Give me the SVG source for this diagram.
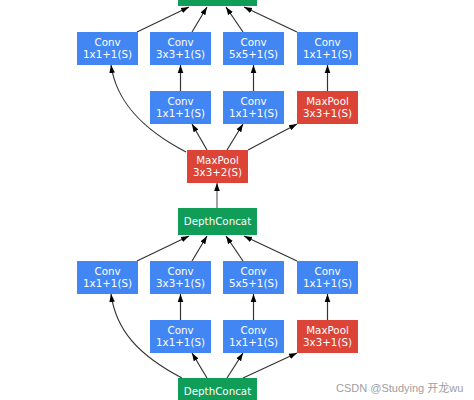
<svg xmlns="http://www.w3.org/2000/svg" width="474" height="400" viewBox="0 0 474 400">
<style>
.conv{fill:#4286F4}
.pool{fill:#DB4437}
.cat{fill:#0F9D58}
.t{font-family:"DejaVu Sans",sans-serif;font-size:10.3px;fill:#fff;text-anchor:middle}
.e{fill:none;stroke:#333;stroke-width:1.2;marker-end:url(#ah)}
.wm{font-family:"Liberation Sans","Noto Sans CJK SC",sans-serif;font-size:11px;fill:#a0a0a0}
</style>
<defs>
<marker id="ah" viewBox="0 0 10 10" refX="10" refY="5" markerWidth="8" markerHeight="8" markerUnits="userSpaceOnUse" orient="auto">
<path d="M0,1.5 L10,5 L0,8.5 z" fill="#000"/>
</marker>
</defs>
<rect width="474" height="400" fill="#fff"/>
<g id="connectors">
<path class="e" d="M137,32 L189,7"/>
<path class="e" d="M192,32 L207,7"/>
<path class="e" d="M243,32 L226,7"/>
<path class="e" d="M297,32 L244,7"/>
<path class="e" d="M180.5,91 L180.5,65"/>
<path class="e" d="M253.5,91 L253.5,65"/>
<path class="e" d="M327.5,91 L327.5,65"/>
<path class="e" d="M186,152 C140,128 116,100 111,65"/>
<path class="e" d="M207,150 L192,124"/>
<path class="e" d="M227,150 L243,124"/>
<path class="e" d="M248,150 L297,124"/>
<path class="e" d="M217,208 L217,183" style="stroke:#666"/>
<path class="e" d="M137,261 L189,236"/>
<path class="e" d="M192,261 L207,236"/>
<path class="e" d="M243,261 L226,236"/>
<path class="e" d="M297,261 L244,236"/>
<path class="e" d="M180.5,320 L180.5,294"/>
<path class="e" d="M253.5,320 L253.5,294"/>
<path class="e" d="M327.5,320 L327.5,294"/>
<path class="e" d="M182,378 C138,355 116,330 111,294"/>
<path class="e" d="M207,378 L192,353"/>
<path class="e" d="M227,378 L243,353"/>
<path class="e" d="M243,378 L297,353"/>
</g>
<g id="concat_top"><rect class="cat" x="178" y="-21" width="79" height="27"/></g>
<g id="conv_a1"><rect class="conv" x="77" y="32" width="61" height="33"/><text class="t" x="107.5" y="45.5">Conv</text><text class="t" x="107.5" y="58">1x1+1(S)</text></g>
<g id="conv_a2"><rect class="conv" x="150" y="32" width="61" height="33"/><text class="t" x="180.5" y="45.5">Conv</text><text class="t" x="180.5" y="58">3x3+1(S)</text></g>
<g id="conv_a3"><rect class="conv" x="223" y="32" width="61" height="33"/><text class="t" x="253.5" y="45.5">Conv</text><text class="t" x="253.5" y="58">5x5+1(S)</text></g>
<g id="conv_a4"><rect class="conv" x="297" y="32" width="61" height="33"/><text class="t" x="327.5" y="45.5">Conv</text><text class="t" x="327.5" y="58">1x1+1(S)</text></g>
<g id="conv_b2"><rect class="conv" x="150" y="91" width="61" height="33"/><text class="t" x="180.5" y="104.5">Conv</text><text class="t" x="180.5" y="117">1x1+1(S)</text></g>
<g id="conv_b3"><rect class="conv" x="223" y="91" width="61" height="33"/><text class="t" x="253.5" y="104.5">Conv</text><text class="t" x="253.5" y="117">1x1+1(S)</text></g>
<g id="pool_b4"><rect class="pool" x="297" y="91" width="61" height="33"/><text class="t" x="327.5" y="104.5">MaxPool</text><text class="t" x="327.5" y="117">3x3+1(S)</text></g>
<g id="pool_mid"><rect class="pool" x="187" y="150" width="61" height="33"/><text class="t" x="217.5" y="163.5">MaxPool</text><text class="t" x="217.5" y="176">3x3+2(S)</text></g>
<g id="concat_mid"><rect class="cat" x="178" y="208" width="79" height="27"/><text class="t" x="217.5" y="225">DepthConcat</text></g>
<g id="conv_c1"><rect class="conv" x="77" y="261" width="61" height="33"/><text class="t" x="107.5" y="274.5">Conv</text><text class="t" x="107.5" y="287">1x1+1(S)</text></g>
<g id="conv_c2"><rect class="conv" x="150" y="261" width="61" height="33"/><text class="t" x="180.5" y="274.5">Conv</text><text class="t" x="180.5" y="287">3x3+1(S)</text></g>
<g id="conv_c3"><rect class="conv" x="223" y="261" width="61" height="33"/><text class="t" x="253.5" y="274.5">Conv</text><text class="t" x="253.5" y="287">5x5+1(S)</text></g>
<g id="conv_c4"><rect class="conv" x="297" y="261" width="61" height="33"/><text class="t" x="327.5" y="274.5">Conv</text><text class="t" x="327.5" y="287">1x1+1(S)</text></g>
<g id="conv_d2"><rect class="conv" x="150" y="320" width="61" height="33"/><text class="t" x="180.5" y="333.5">Conv</text><text class="t" x="180.5" y="346">1x1+1(S)</text></g>
<g id="conv_d3"><rect class="conv" x="223" y="320" width="61" height="33"/><text class="t" x="253.5" y="333.5">Conv</text><text class="t" x="253.5" y="346">1x1+1(S)</text></g>
<g id="pool_d4"><rect class="pool" x="297" y="320" width="61" height="33"/><text class="t" x="327.5" y="333.5">MaxPool</text><text class="t" x="327.5" y="346">3x3+1(S)</text></g>
<g id="concat_bot"><rect class="cat" x="178" y="378" width="79" height="27"/><text class="t" x="217.5" y="395">DepthConcat</text></g>
<text class="wm" x="336" y="392">CSDN @Studying 开龙wu</text>
</svg>
